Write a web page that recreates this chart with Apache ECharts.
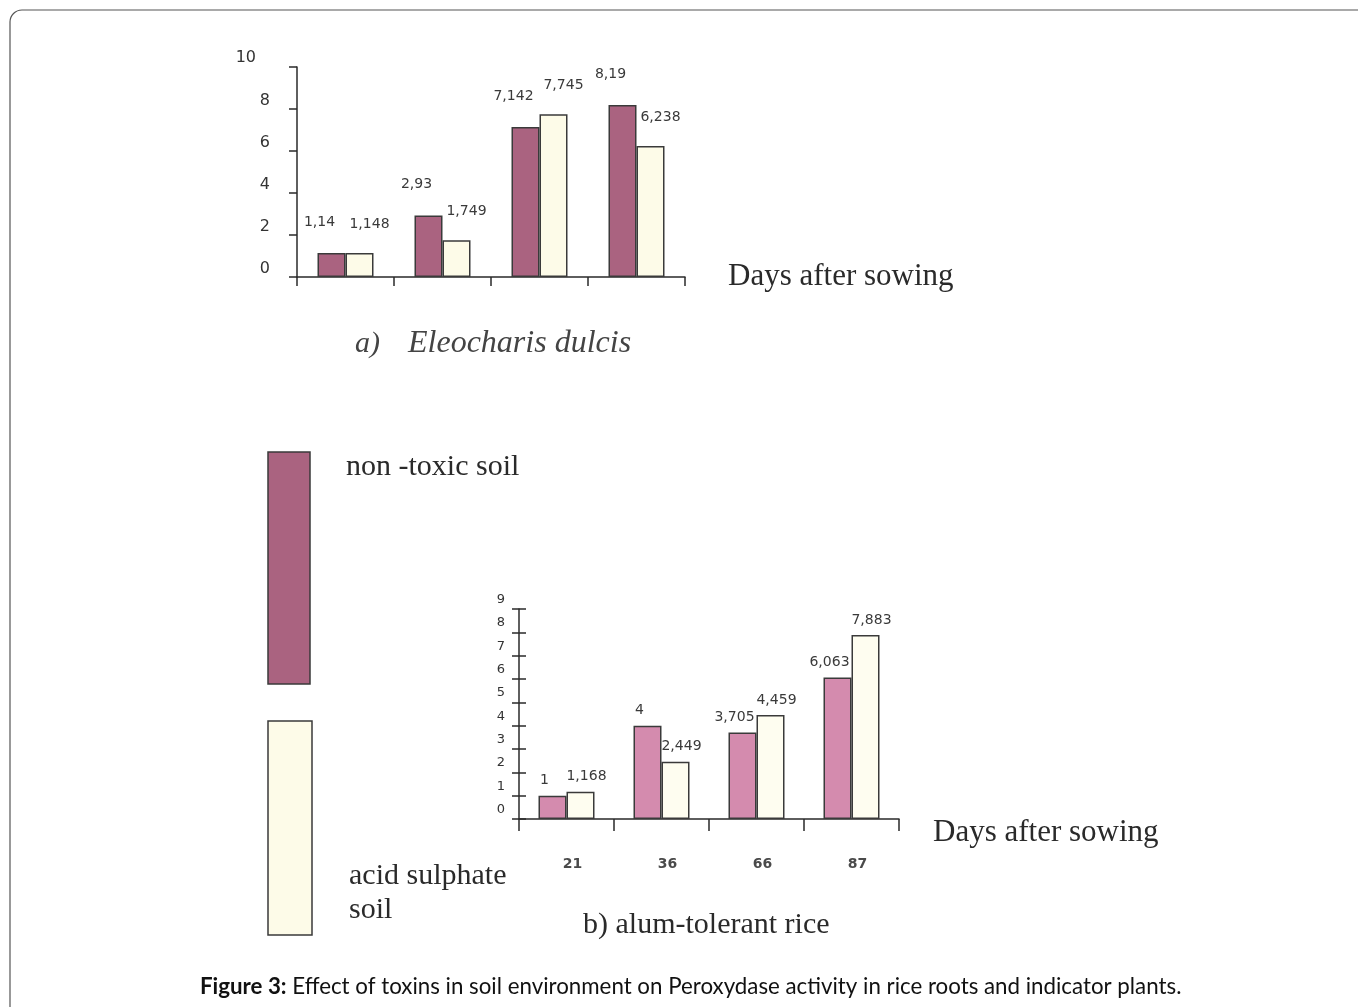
<!DOCTYPE html>
<html>
<head>
<meta charset="utf-8">
<script src="https://cdn.jsdelivr.net/npm/echarts@6/dist/echarts.min.js"></script>
<style>
html,body{margin:0;padding:0;background:#fff;}
#chart{width:1358px;height:1007px;}
</style>
</head>
<body>
<div id="chart"></div>
<script>
// ---- data ----
const categoriesA = ['1', '2', '3', '4'];
const nonToxicA = [1.14, 2.93, 7.142, 8.19];
const acidA = [1.148, 1.749, 7.745, 6.238];

const categoriesB = ['21', '36', '66', '87'];
const nonToxicB = [1, 4, 3.705, 6.063];
const acidB = [1.168, 2.449, 4.459, 7.883];

const yTicksA = [0, 2, 4, 6, 8, 10];
const yTicksB = [0, 1, 2, 3, 4, 5, 6, 7, 8, 9];

const seriesNames = ['non -toxic soil', 'acid sulphate soil'];

// ---- chart ----
const chart = echarts.init(document.getElementById('chart'));
const fmt = p => String(p.value).replace('.', ',');
const serif = '"Liberation Serif", "DejaVu Serif", serif';
const sans = '"DejaVu Sans", Verdana, sans-serif';

function valueLabel(distance, dx) {
  return {
    show: true, position: 'top', distance: distance, offset: [dx, 0], formatter: fmt,
    fontFamily: sans, fontSize: 14, color: '#3a3a3a'
  };
}
const axisLineStyle = { color: '#2a2a2a', width: 1.5 };

const option = {
  animation: false,
  backgroundColor: '#fff',
  grid: [
    { left: 297, top: 67, width: 388, height: 210 },
    { left: 519, top: 609, width: 380, height: 210 }
  ],
  xAxis: [
    {
      gridIndex: 0, type: 'category', data: categoriesA,
      axisLine: { lineStyle: axisLineStyle },
      axisTick: { show: true, length: 9, lineStyle: axisLineStyle },
      axisLabel: { show: false }
    },
    {
      gridIndex: 1, type: 'category', data: categoriesB,
      axisLine: { lineStyle: axisLineStyle },
      axisTick: { show: true, length: 12, lineStyle: axisLineStyle },
      axisLabel: { margin: 38, padding: [0, 0, 0, 12], fontFamily: sans, fontSize: 14, fontWeight: 'bold', color: '#4a4a4a' }
    }
  ],
  yAxis: [
    {
      gridIndex: 0, type: 'value', min: yTicksA[0], max: yTicksA[yTicksA.length - 1], interval: 2,
      splitLine: { show: false },
      axisLine: { show: true, lineStyle: axisLineStyle },
      axisTick: { show: true, length: 8, lineStyle: axisLineStyle },
      axisLabel: {
        margin: 27, fontFamily: sans, fontSize: 16, color: '#333', verticalAlign: 'bottom',
        formatter: v => v >= 10 ? '{w|' + v + '}' : String(v),
        rich: { w: { fontFamily: sans, fontSize: 16, color: '#333', padding: [0, 14, 1, 0] } }
      }
    },
    {
      gridIndex: 1, type: 'value', position: 'left', min: yTicksB[0], max: yTicksB[yTicksB.length - 1], interval: 1,
      splitLine: { show: false },
      axisLine: { show: true, lineStyle: axisLineStyle },
      axisTick: { show: true, length: 7, lineStyle: axisLineStyle },
      axisLabel: { margin: 14, fontFamily: sans, fontSize: 13, color: '#333', verticalAlign: 'bottom', padding: [0, 0, 3, 0] }
    },
    {
      gridIndex: 1, type: 'value', position: 'left', min: yTicksB[0], max: yTicksB[yTicksB.length - 1], interval: 1,
      splitLine: { show: false },
      axisLine: { show: false },
      axisTick: { show: true, inside: true, length: 7, lineStyle: axisLineStyle },
      axisLabel: { show: false }
    }
  ],
  series: [
    {
      name: seriesNames[0], type: 'bar', xAxisIndex: 0, yAxisIndex: 0, data: nonToxicA,
      barWidth: 28, barGap: '0%',
      itemStyle: { color: '#aa6380', borderColor: '#3a3a3a', borderWidth: 1.5 },
      label: valueLabel(24, -12)
    },
    {
      name: seriesNames[1], type: 'bar', xAxisIndex: 0, yAxisIndex: 0, data: acidA,
      barWidth: 28, barGap: '0%',
      itemStyle: { color: '#fdfbe8', borderColor: '#3a3a3a', borderWidth: 1.5 },
      label: valueLabel(22, 10)
    },
    {
      name: seriesNames[0], type: 'bar', xAxisIndex: 1, yAxisIndex: 1, data: nonToxicB,
      barWidth: 28, barGap: '0%',
      itemStyle: { color: '#d48bae', borderColor: '#3a3a3a', borderWidth: 1.5 },
      label: valueLabel(8, -8)
    },
    {
      name: seriesNames[1], type: 'bar', xAxisIndex: 1, yAxisIndex: 1, data: acidB,
      barWidth: 28, barGap: '0%',
      itemStyle: { color: '#fefdf0', borderColor: '#3a3a3a', borderWidth: 1.5 },
      label: valueLabel(8, 6)
    }
  ],
  graphic: [
    // outer frame
    { type: 'rect', shape: { x: 10, y: 10, width: 1365, height: 1020, r: 12 },
      style: { fill: 'none', stroke: '#555', lineWidth: 1.2 }, silent: true },
    // axis titles
    { type: 'text', x: 728, y: 277, style: { text: 'Days after sowing', font: '31px ' + serif, fill: '#2a2a2a', verticalAlign: 'middle' } },
    { type: 'text', x: 933, y: 833, style: { text: 'Days after sowing', font: '31px ' + serif, fill: '#2a2a2a', verticalAlign: 'middle' } },
    // panel captions
    { type: 'text', x: 355, y: 344, style: { text: 'a)', font: 'italic 30px ' + serif, fill: '#444', verticalAlign: 'middle' } },
    { type: 'text', x: 408, y: 344, style: { text: 'Eleocharis dulcis', font: 'italic 32px ' + serif, fill: '#444', verticalAlign: 'middle' } },
    { type: 'text', x: 583, y: 925, style: { text: 'b) alum-tolerant rice', font: '30px ' + serif, fill: '#2a2a2a', verticalAlign: 'middle' } },
    // legend
    { type: 'rect', shape: { x: 268, y: 452, width: 42, height: 232 },
      style: { fill: '#aa6380', stroke: '#3a3a3a', lineWidth: 1.5 } },
    { type: 'rect', shape: { x: 268, y: 721, width: 44, height: 214 },
      style: { fill: '#fdfbe8', stroke: '#3a3a3a', lineWidth: 1.5 } },
    { type: 'text', x: 346, y: 467, style: { text: seriesNames[0], font: '30px ' + serif, fill: '#2a2a2a', verticalAlign: 'middle' } },
    { type: 'text', x: 349, y: 876, style: { text: 'acid sulphate', font: '30px ' + serif, fill: '#2a2a2a', verticalAlign: 'middle' } },
    { type: 'text', x: 349, y: 910, style: { text: 'soil', font: '30px ' + serif, fill: '#2a2a2a', verticalAlign: 'middle' } },
    // figure caption
    { type: 'text', x: 200, y: 987, style: {
        text: '{b|Figure 3:} Effect of toxins in soil environment on Peroxydase activity in rice roots and indicator plants.',
        rich: { b: { fontWeight: 'bold', fontFamily: 'Lato, "Open Sans", sans-serif', fontSize: 22.3, fill: '#111' } },
        fontFamily: 'Lato, "Open Sans", sans-serif', fontSize: 22.3, fill: '#111', verticalAlign: 'middle' } }
  ]
};
chart.setOption(option);
</script>
</body>
</html>
